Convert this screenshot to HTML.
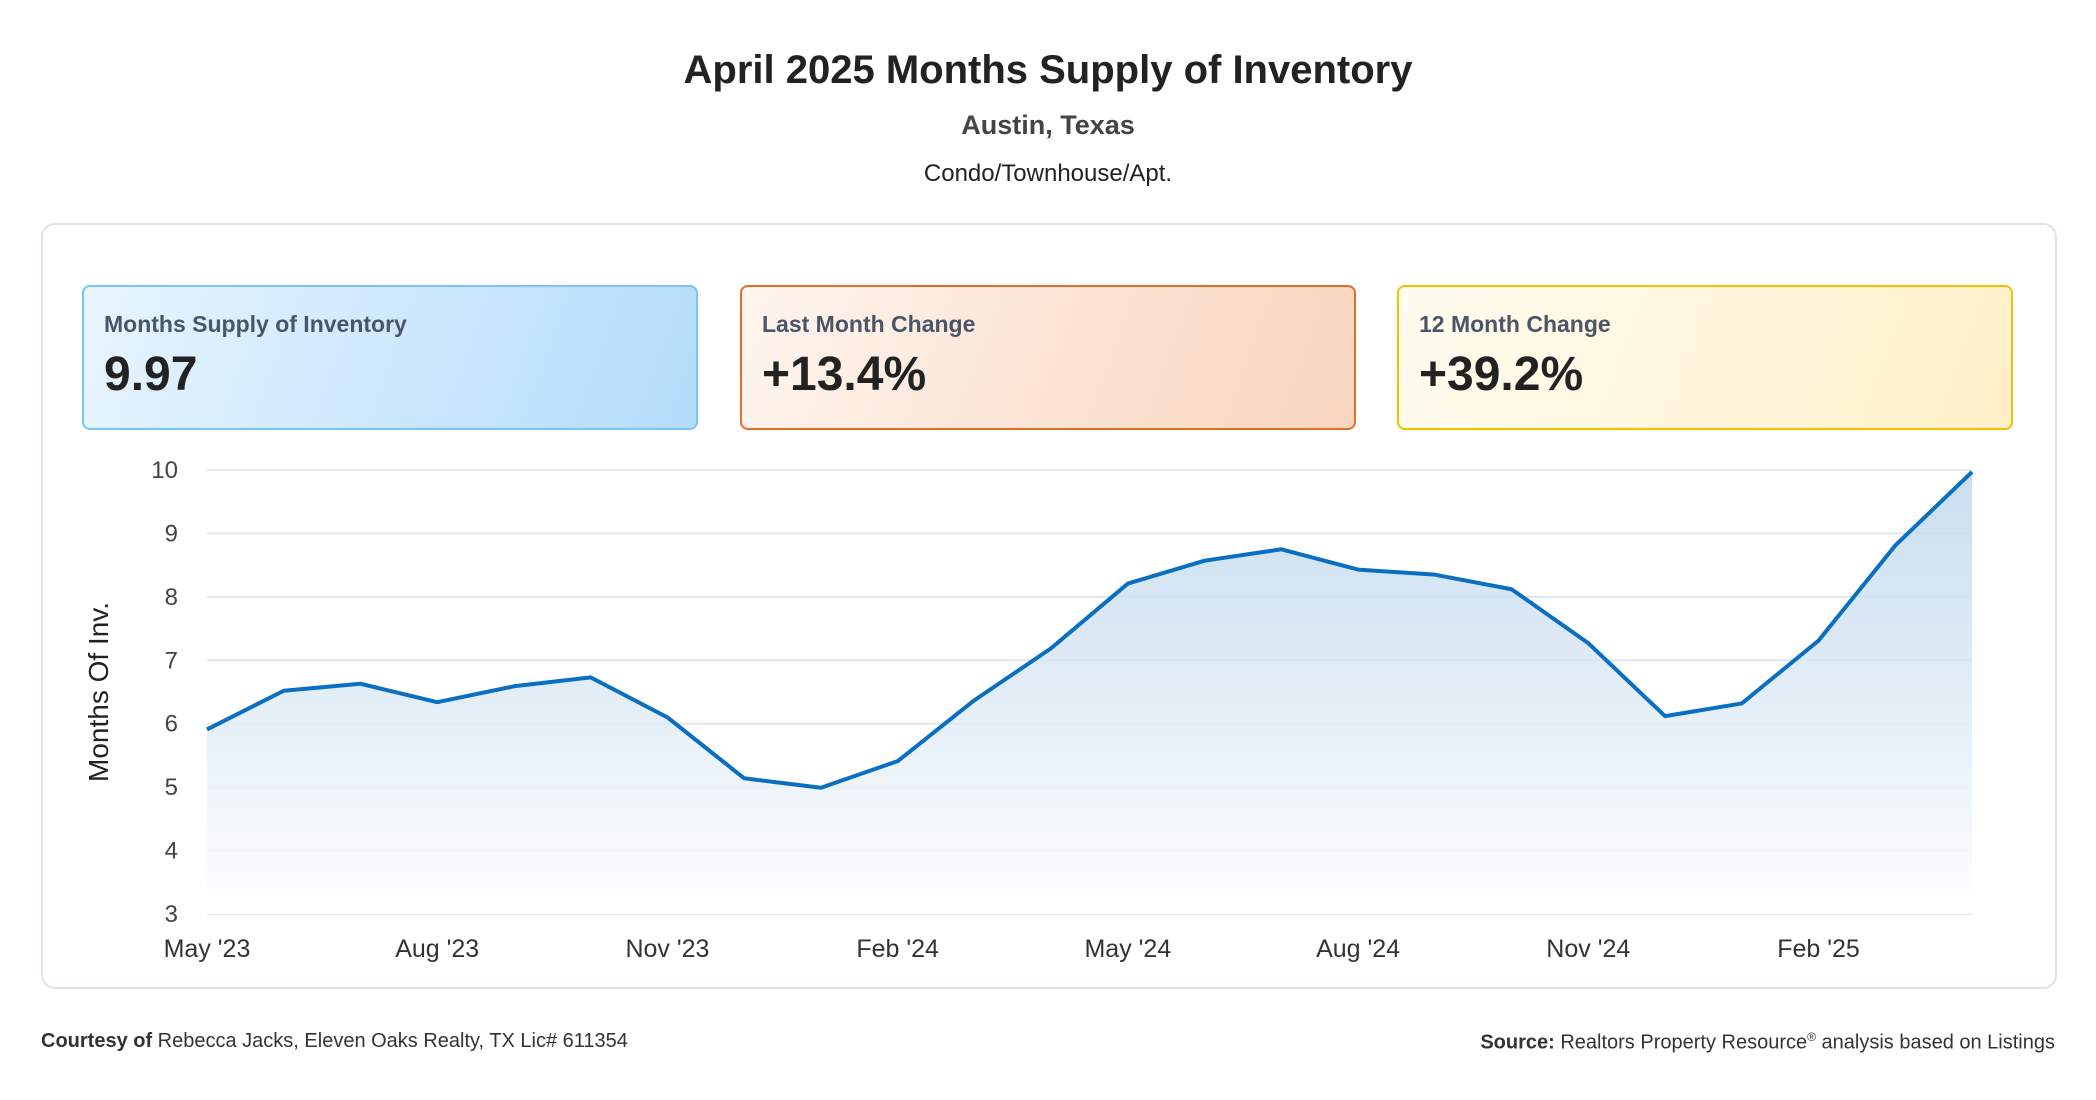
<!DOCTYPE html>
<html><head><meta charset="utf-8">
<style>
body{margin:0;width:2096px;height:1100px;background:#fff;font-family:"Liberation Sans",sans-serif;position:relative;overflow:hidden}
.abs{position:absolute}
.c{left:0;width:2096px;text-align:center}
.card{position:absolute;left:41px;top:223px;width:2012px;height:762px;border:2px solid #dde3ec;border-radius:14px}
.kpi{position:absolute;top:285px;width:612px;height:141px;border:2px solid;border-radius:8px;box-sizing:content-box}
.kpi .l{position:absolute;left:20px;top:24px;font-size:23px;font-weight:bold;color:#4a5568}
.kpi .v{position:absolute;left:20px;top:60px;font-size:48px;font-weight:bold;color:#222}
</style></head><body>
<div class="abs c" style="top:48px;font-size:40px;font-weight:bold;color:#222">April 2025 Months Supply of Inventory</div>
<div class="abs c" style="top:110px;font-size:27px;font-weight:bold;color:#444">Austin, Texas</div>
<div class="abs c" style="top:160px;font-size:24px;color:#222">Condo/Townhouse/Apt.</div>
<div class="card"></div>
<div class="kpi" style="left:82px;border-color:#7cc4f7;background:linear-gradient(110deg,#e8f5fe,#b3dcfb)"><div class="l">Months Supply of Inventory</div><div class="v">9.97</div></div>
<div class="kpi" style="left:740px;border-color:#e56d25;background:linear-gradient(110deg,#fff5ee,#f8d5bd)"><div class="l">Last Month Change</div><div class="v">+13.4%</div></div>
<div class="kpi" style="left:1397px;border-color:#f5c000;background:linear-gradient(110deg,#fffcf0,#fff0c8)"><div class="l">12 Month Change</div><div class="v">+39.2%</div></div>
<svg id="chart" class="abs" style="left:0;top:0" width="2096" height="1100">
<defs><linearGradient id="fill" x1="0" y1="0" x2="0" y2="1"><stop offset="0" stop-color="#bcd6ec" stop-opacity="0.8"/><stop offset="1" stop-color="#ffffff" stop-opacity="0.9"/></linearGradient></defs>
</svg>
<div class="abs" style="left:41px;top:1030px;font-size:20px;color:#333"><b>Courtesy of</b> Rebecca Jacks, Eleven Oaks Realty, TX Lic# 611354</div>
<div class="abs" style="right:41px;top:1030px;font-size:20px;color:#333"><b>Source:</b> Realtors Property Resource<sup style="font-size:12px">®</sup> analysis based on Listings</div>
<script>
const months=["May '23","Jun '23","Jul '23","Aug '23","Sep '23","Oct '23","Nov '23","Dec '23","Jan '24","Feb '24","Mar '24","Apr '24","May '24","Jun '24","Jul '24","Aug '24","Sep '24","Oct '24","Nov '24","Dec '24","Jan '25","Feb '25","Mar '25","Apr '25"];
const values=[5.91,6.52,6.63,6.34,6.59,6.73,6.10,5.14,4.99,5.41,6.37,7.19,8.21,8.57,8.75,8.43,8.35,8.12,7.27,6.12,6.32,7.31,8.81,9.97];
const yTicks=[3,4,5,6,7,8,9,10];
const xLabelIdx=[0,3,6,9,12,15,18,21];
const NS="http://www.w3.org/2000/svg";
const svg=document.getElementById('chart');
const X0=207,X1=1972,Y0=914,Y1=470,ymin=3,ymax=10;
const xs=i=>X0+(X1-X0)*i/(months.length-1);
const ys=v=>Y0-(v-ymin)/(ymax-ymin)*(Y0-Y1);
function mk(t,a){const e=document.createElementNS(NS,t);for(const k in a)e.setAttribute(k,a[k]);svg.appendChild(e);return e;}
yTicks.forEach(t=>{
 const g=mk('line',{x1:X0,x2:X1,y1:ys(t),y2:ys(t),stroke:'#e2e5ea','stroke-width':2});
 
 
 const l=mk('text',{x:178,y:ys(t)+8,'text-anchor':'end','font-size':24,fill:'#444','font-family':'Liberation Sans, sans-serif'});
 l.textContent=t;
 
 
});
xLabelIdx.forEach(i=>{
 const l=mk('text',{x:xs(i),y:957,'text-anchor':'middle','font-size':25,fill:'#333','font-family':'Liberation Sans, sans-serif'});
 l.textContent=months[i];
 
 
});
const pts=values.map((v,i)=>xs(i)+','+ys(v));
const area=mk('polygon',{points:xs(0)+','+Y0+' '+pts.join(' ')+' '+xs(values.length-1)+','+Y0,fill:'url(#fill)'});


const line=mk('polyline',{points:pts.join(' '),fill:'none',stroke:'#0a6fc2','stroke-width':4,'stroke-linejoin':'round'});


const yt=mk('text',{x:0,y:0,transform:'translate(108,692) rotate(-90)','text-anchor':'middle','font-size':28,fill:'#222','font-family':'Liberation Sans, sans-serif'});
yt.textContent='Months Of Inv.';


</script>
</body></html>
